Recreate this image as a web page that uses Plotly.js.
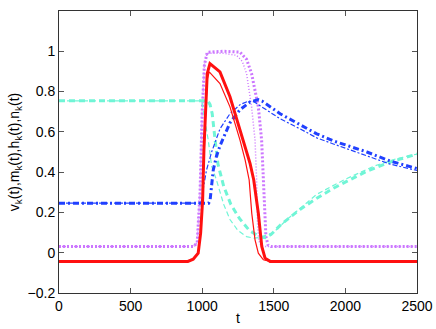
<!DOCTYPE html>
<html>
<head>
<meta charset="utf-8">
<script src="https://cdn.plot.ly/plotly-3.0.1.min.js"></script>
<style>
  html, body { margin: 0; padding: 0; background: #fff; }
  #chart { width: 436px; height: 329px; }
</style>
</head>
<body>
<div id="chart"></div>
<script>
// Gating variables of one neuron k, thick = one run, thin = the other

const vThickT = [0, 900, 937, 972, 989, 1003, 1012, 1024, 1035, 1054, 1124, 1194, 1264, 1334, 1360, 1392, 1416, 1439, 1474, 1520, 2500];
const vThickY = [-0.043, -0.043, -0.032, -0.002, 0.097, 0.262, 0.51, 0.757, 0.889, 0.939, 0.898, 0.774, 0.609, 0.444, 0.361, 0.196, 0.031, -0.027, -0.043, -0.043, -0.043];

const vThinT = [0, 900, 937, 972, 989, 1003, 1012, 1024, 1035, 1049, 1124, 1194, 1264, 1300, 1328, 1346, 1369, 1392, 1427, 1474, 2500];
const vThinY = [-0.043, -0.043, -0.032, -0.002, 0.097, 0.262, 0.5, 0.73, 0.86, 0.898, 0.84, 0.724, 0.559, 0.46, 0.361, 0.196, 0.064, -0.002, -0.035, -0.043, -0.043];

const mThickT = [0, 940, 965, 985, 1000, 1015, 1035, 1150, 1264, 1310, 1345, 1392, 1415, 1427, 1435, 1445, 1460, 1480, 2500];
const mThickY = [0.031, 0.031, 0.05, 0.3, 0.7, 0.93, 0.995, 1.0, 0.996, 0.96, 0.889, 0.724, 0.559, 0.361, 0.2, 0.08, 0.038, 0.031, 0.031];

const mThinT = [0, 940, 965, 985, 1000, 1015, 1035, 1150, 1240, 1280, 1310, 1345, 1369, 1380, 1386, 1395, 1410, 1430, 2500];
const mThinY = [0.031, 0.031, 0.05, 0.3, 0.7, 0.93, 0.99, 0.99, 0.98, 0.95, 0.889, 0.724, 0.559, 0.361, 0.15, 0.06, 0.035, 0.031, 0.031];

const hThickT = [0, 1040, 1055, 1070, 1090, 1110, 1150, 1200, 1260, 1330, 1400, 1440, 1480, 1550, 1683, 1800, 1916, 2150, 2312, 2500];
const hThickY = [0.754, 0.754, 0.735, 0.69, 0.56, 0.44, 0.33, 0.24, 0.17, 0.11, 0.08, 0.075, 0.09, 0.14, 0.215, 0.27, 0.32, 0.405, 0.45, 0.49];

const hThinT = [0, 990, 1000, 1020, 1042, 1066, 1100, 1150, 1194, 1250, 1310, 1360, 1400, 1497, 1600, 1800, 2000, 2200, 2350, 2500];
const hThinY = [0.754, 0.754, 0.74, 0.66, 0.56, 0.43, 0.36, 0.24, 0.165, 0.11, 0.08, 0.072, 0.075, 0.1, 0.17, 0.29, 0.365, 0.43, 0.465, 0.49];

const nThickT = [0, 1045, 1055, 1065, 1077, 1100, 1124, 1160, 1194, 1264, 1334, 1390, 1420, 1544, 1683, 1800, 1916, 2150, 2312, 2500];
const nThickY = [0.246, 0.246, 0.26, 0.33, 0.41, 0.48, 0.53, 0.59, 0.645, 0.71, 0.748, 0.76, 0.752, 0.69, 0.635, 0.59, 0.555, 0.5, 0.455, 0.418];

const nThinT = [0, 990, 1000, 1010, 1030, 1066, 1124, 1194, 1264, 1320, 1360, 1404, 1544, 1683, 1800, 1916, 2150, 2312, 2500];
const nThinY = [0.246, 0.246, 0.27, 0.33, 0.41, 0.5, 0.615, 0.69, 0.735, 0.752, 0.75, 0.73, 0.665, 0.615, 0.57, 0.54, 0.48, 0.44, 0.408];

const xTicks = [0, 500, 1000, 1500, 2000, 2500];
const yTicks = [-0.2, 0, 0.2, 0.4, 0.6, 0.8, 1];

const RED = '#ff1010', MAG = '#cc77ff', CYAN = '#70f5d6', BLUE = '#2040ff';
const FONT = 'Liberation Sans, Arial, sans-serif';

function line(x, y, color, width, dash) {
  return {
    x: x, y: y, type: 'scatter', mode: 'lines',
    line: {color: color, width: width, dash: dash},
    hoverinfo: 'skip', showlegend: false
  };
}

const traces = [
  line(mThinT, mThinY, MAG, 1.5, '1px,2px'),
  line(mThickT, mThickY, MAG, 3, '2px,2px'),
  line(hThinT, hThinY, CYAN, 1.2, '5px,3px'),
  line(hThickT, hThickY, CYAN, 3, '6px,4px'),
  line(nThinT, nThinY, BLUE, 1.2, '5px,2px,2px,2px'),
  line(nThickT, nThickY, BLUE, 3, '6px,3px,2px,3px'),
  line(vThinT, vThinY, RED, 1.2, 'solid'),
  line(vThickT, vThickY, RED, 3, 'solid')
];

const axisCommon = {
  showgrid: false, zeroline: false,
  showline: true, linecolor: '#333', linewidth: 1, mirror: 'ticks',
  ticks: 'inside', ticklen: 5, tickcolor: '#555', tickwidth: 1,
  tickfont: {family: FONT, size: 14, color: '#000'}
};

const layout = {
  width: 436, height: 329,
  margin: {l: 59, r: 19, t: 11, b: 36},
  paper_bgcolor: '#fff', plot_bgcolor: '#fff',
  xaxis: Object.assign({}, axisCommon, {
    range: [0, 2500], tickvals: xTicks, ticktext: xTicks.map(String),
    title: {text: 't', standoff: 0, font: {family: FONT, size: 14, color: '#000'}}
  }),
  yaxis: Object.assign({}, axisCommon, {
    range: [-0.2, 1.2], tickvals: yTicks,
    ticktext: yTicks.map(v => v < 0 ? '\u2212' + Math.abs(v) : String(v)),
    title: {
      text: 'v<sub>k</sub>(t),m<sub>k</sub>(t),h<sub>k</sub>(t),n<sub>k</sub>(t)',
      standoff: 4,
      font: {family: FONT, size: 14, color: '#000'}
    }
  })
};

Plotly.newPlot('chart', traces, layout, {staticPlot: true});
</script>
</body>
</html>
